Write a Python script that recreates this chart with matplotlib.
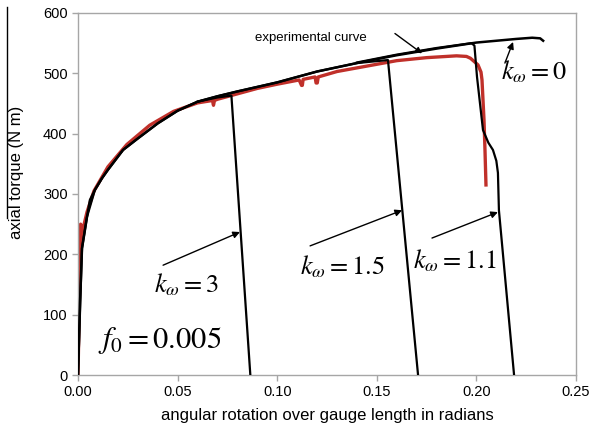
import matplotlib
matplotlib.use("Agg")
import matplotlib.pyplot as plt
from matplotlib.lines import Line2D

plt.rcParams['font.family'] = ['Liberation Sans', 'DejaVu Sans']
plt.rcParams['mathtext.fontset'] = 'stix'

# Courbe modele commune (k_omega = 0)
x_model = [0.0, 0.001, 0.002, 0.0045, 0.006, 0.0085, 0.012, 0.015, 0.0226, 0.03, 0.04,
           0.05, 0.06, 0.07, 0.08, 0.10, 0.12, 0.14, 0.16, 0.18, 0.20, 0.22,
           0.228, 0.232, 0.2335]
y_model = [0, 120, 210, 262, 290, 307, 326, 340, 373, 392, 417,
           438, 453, 462, 470, 485, 503, 517, 530, 541, 551, 557,
           559, 558, 554]

# Branches de rupture
x_k3 = [0.0, 0.002, 0.0045, 0.0085, 0.012, 0.015, 0.0226, 0.03, 0.04, 0.05, 0.06, 0.07,
        0.077, 0.0865]
y_k3 = [0, 210, 262, 307, 326, 340, 373, 392, 417, 438, 453, 460, 463, 0]

x_k15 = [0.06, 0.07, 0.08, 0.10, 0.12, 0.14, 0.1556, 0.1707]
y_k15 = [453, 462, 470, 485, 503, 517, 522, 0]

x_k11 = [0.14, 0.16, 0.18, 0.1975, 0.1990, 0.2003, 0.2033, 0.2060, 0.2083, 0.2100,
         0.2108, 0.2113, 0.2189]
y_k11 = [518, 531, 542, 550, 546, 494, 406, 385, 373, 355, 335, 273, 0]

# Courbe experimentale
x_exp = [0.0, 0.0008, 0.0013, 0.0013, 0.002, 0.0045, 0.008, 0.015, 0.0245, 0.036,
         0.048, 0.06, 0.0675, 0.068, 0.0685, 0.07, 0.08, 0.09, 0.1, 0.111,
         0.1122, 0.1126, 0.113, 0.119, 0.1195, 0.1201, 0.1206, 0.13, 0.15, 0.16,
         0.175, 0.19, 0.195, 0.197, 0.2008, 0.2023, 0.2028, 0.2038, 0.2043, 0.2048]
y_exp = [0, 150, 250, 215, 235, 270, 305, 345, 382, 414,
         437, 451, 455, 447, 455, 457, 466, 475, 482, 489,
         480, 480, 490, 494, 484, 484, 494, 503, 515, 521,
         526, 529, 528, 525, 514, 502, 489, 423, 373, 315]

# Annotations : (texte, position du texte, depart fleche, pointe fleche)
k_labels = [r'$k_{\omega}=0$', r'$k_{\omega}=3$', r'$k_{\omega}=1.5$', r'$k_{\omega}=1.1$']
k_text_xy = [(0.2288, 503), (0.0542, 150), (0.1325, 180), (0.1893, 190)]
k_arrow_from = [(0.2143, 517), (0.0427, 182), (0.1165, 214), (0.1777, 227)]
k_arrow_to = [(0.2184, 552), (0.0813, 237), (0.1627, 273), (0.2108, 270)]

fig = plt.figure(figsize=(5.92, 4.36), dpi=100)
ax = fig.add_axes([0.1318, 0.1399, 0.8412, 0.8303])

ax.plot(x_model, y_model, color='black', lw=1.8, zorder=3)
ax.plot(x_k3, y_k3, color='black', lw=1.6, zorder=3)
ax.plot(x_k15, y_k15, color='black', lw=1.6, zorder=3)
ax.plot(x_k11, y_k11, color='black', lw=1.6, zorder=3)
ax.plot(x_exp, y_exp, color='#c0302a', lw=2.4, zorder=2)

for lab, txy, a0, a1 in zip(k_labels, k_text_xy, k_arrow_from, k_arrow_to):
    ax.text(txy[0], txy[1], lab, fontsize=19, ha='center', va='center', zorder=5)
    ax.annotate('', xy=a1, xytext=a0,
                arrowprops=dict(arrowstyle='-|>', color='black', lw=1.0,
                                mutation_scale=10, shrinkA=0, shrinkB=0))

ax.text(0.0412, 58, r'$f_0=0.005$', fontsize=22, ha='center', va='center')
ax.text(0.0887, 559, 'experimental curve', fontsize=9.5, ha='left', va='center')
ax.annotate('', xy=(0.1727, 533), xytext=(0.1591, 566),
            arrowprops=dict(arrowstyle='-|>', color='black', lw=1.0,
                            mutation_scale=9, shrinkA=0, shrinkB=0))

ax.set_xlim(0, 0.25)
ax.set_ylim(0, 600)
ax.set_xticks([0.0, 0.05, 0.10, 0.15, 0.20, 0.25])
ax.set_xticklabels(['0.00', '0.05', '0.10', '0.15', '0.20', '0.25'])
ax.set_yticks(range(0, 601, 100))
for s in ax.spines.values():
    s.set_color('#a6a6a6')
    s.set_linewidth(1.0)
ax.tick_params(colors='#a6a6a6', labelcolor='black', labelsize=10.5, length=4, width=1)
ax.set_xlabel('angular rotation over gauge length in radians', fontsize=12, labelpad=6)

fig.text(0.028, 0.605, 'axial torque (N m)', rotation=90, fontsize=12,
         ha='center', va='center')
fig.add_artist(Line2D([0.0125, 0.0125], [1 - 7 / 436, 1 - 218 / 436],
                      transform=fig.transFigure, color='black', lw=1.0))

fig.savefig('out.png', dpi=100)
